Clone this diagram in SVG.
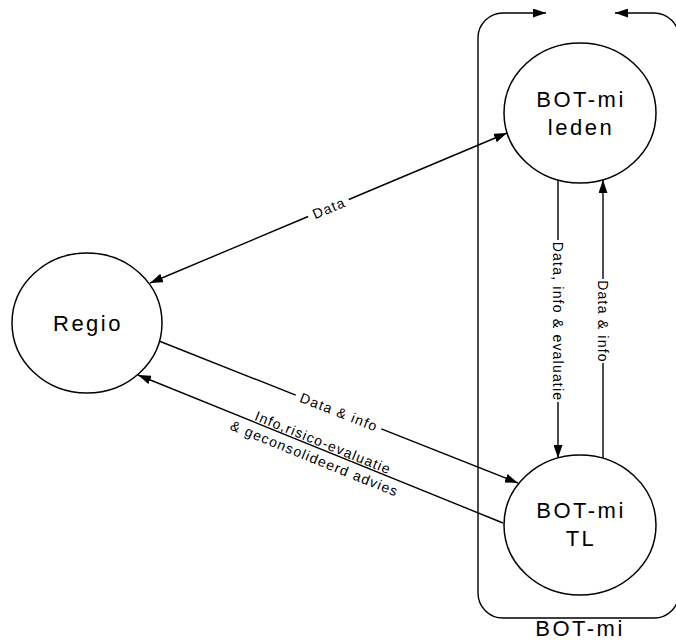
<svg xmlns="http://www.w3.org/2000/svg" width="676" height="641" viewBox="0 0 676 641">
<style>
.node{fill:#fff;stroke:#000;stroke-width:1.5}
.big{font-family:"Liberation Sans",Arial,sans-serif;font-size:22px;letter-spacing:2.5px;fill:#000;text-anchor:middle}
.lbl{font-family:"Liberation Sans",Arial,sans-serif;font-size:14px;letter-spacing:1.2px;fill:#000;text-anchor:middle}
.edge{fill:none;stroke:#000;stroke-width:1.4}
</style>
<defs>
<marker id="arr" viewBox="0 0 13 9" refX="13" refY="4.5" markerWidth="13" markerHeight="9" markerUnits="userSpaceOnUse" orient="auto-start-reverse">
<path d="M0,0 L13,4.5 L0,9 z" fill="#000"/>
</marker>
</defs>
<rect width="676" height="641" fill="#fff"/>
<g id="botmi-group">
<path class="edge" d="M546,13 L503,13 A25,25 0 0 0 478,38 L478,593 A25,25 0 0 0 503,618 L654,618 A25,25 0 0 0 679,593 L679,38 A25,25 0 0 0 654,13 L615,13" marker-start="url(#arr)" marker-end="url(#arr)"/>
<text class="big" x="580" y="636">BOT-mi</text>
</g>
<g id="connectors">
<path class="edge" d="M150,283 L308.2,216.5" marker-start="url(#arr)"/>
<path class="edge" d="M348.8,199.5 L507,133" marker-end="url(#arr)"/>
<text class="lbl" transform="translate(329,208) rotate(-22.8)" x="0" y="5">Data</text>
<path class="edge" d="M159,341 L295.7,395.1"/>
<path class="edge" d="M381.3,428.9 L518,483" marker-end="url(#arr)"/>
<text class="lbl" transform="translate(339,412) rotate(21.6)" x="0" y="5">Data &amp; info</text>
<path class="edge" d="M503,523 L138,375" marker-end="url(#arr)"/>
<g transform="translate(320.5,449) rotate(22.1)">
<text class="lbl" x="0" y="-2">Info,risico-evaluatie</text>
<text class="lbl" x="-2" y="16">&amp; geconsolideerd advies</text>
</g>
<path class="edge" d="M558,180 L558,240"/>
<path class="edge" d="M558,402 L558,458" marker-end="url(#arr)"/>
<text class="lbl" transform="translate(558,321.5) rotate(90)" x="0" y="5">Data, info &amp; evaluatie</text>
<path class="edge" d="M603,458 L603,363"/>
<path class="edge" d="M603,279 L603,180" marker-end="url(#arr)"/>
<text class="lbl" transform="translate(603,321.5) rotate(90)" x="0" y="5">Data &amp; info</text>
</g>
<g id="regio">
<ellipse class="node" cx="87" cy="323" rx="75" ry="70"/>
<text class="big" x="88" y="331">Regio</text>
</g>
<g id="botmi-leden">
<ellipse class="node" cx="580" cy="113" rx="76" ry="70"/>
<text class="big" x="581" y="107">BOT-mi</text>
<text class="big" x="581" y="135">leden</text>
</g>
<g id="botmi-tl">
<ellipse class="node" cx="580" cy="525" rx="76" ry="70"/>
<text class="big" x="581" y="518">BOT-mi</text>
<text class="big" x="581" y="546">TL</text>
</g>
</svg>
